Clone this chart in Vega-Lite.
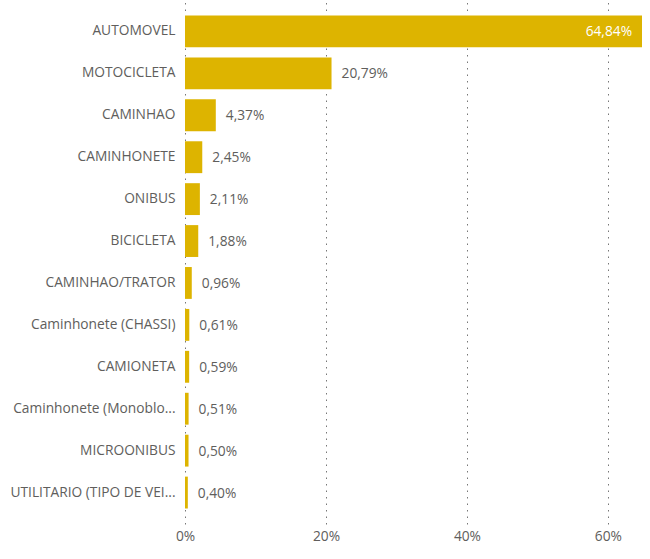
{
  "$schema": "https://vega.github.io/schema/vega-lite/v6.json",
  "autosize": {"type": "none"},
  "width": 457,
  "height": 524,
  "padding": {"left": 185, "top": 0, "right": 8, "bottom": 35},
  "config": {
    "locale": {"number": {"decimal": ",", "thousands": ".", "grouping": [3], "currency": ["R$", ""]}},
    "view": {"stroke": null},
    "font": "Open Sans"
  },
  "data": {
    "values": [
      {"tipo": "AUTOMOVEL", "pct": 0.6484},
      {"tipo": "MOTOCICLETA", "pct": 0.2079},
      {"tipo": "CAMINHAO", "pct": 0.0437},
      {"tipo": "CAMINHONETE", "pct": 0.0245},
      {"tipo": "ONIBUS", "pct": 0.0211},
      {"tipo": "BICICLETA", "pct": 0.0188},
      {"tipo": "CAMINHAO/TRATOR", "pct": 0.0096},
      {"tipo": "Caminhonete (CHASSI)", "pct": 0.0061},
      {"tipo": "CAMIONETA", "pct": 0.0059},
      {"tipo": "Caminhonete (Monoblo...", "pct": 0.0051},
      {"tipo": "MICROONIBUS", "pct": 0.0050},
      {"tipo": "UTILITARIO (TIPO DE VEI...", "pct": 0.0040}
    ]
  },
  "encoding": {
    "y": {
      "field": "tipo", "type": "nominal", "sort": null,
      "scale": {"paddingInner": 0.24, "paddingOuter": 0.37},
      "axis": {"title": null, "domain": false, "ticks": false, "labelPadding": 10, "labelFontSize": 13.75, "labelColor": "#605E5C", "labelFont": "Open Sans", "labelLimit": 200}
    },
    "x": {
      "field": "pct", "type": "quantitative",
      "scale": {"domain": [0, 0.6484], "nice": false, "zero": true},
      "axis": {"title": null, "format": ".0%", "values": [0, 0.2, 0.4, 0.6], "domain": false, "ticks": false, "labelFlush": false, "grid": true, "gridColor": "#777777", "gridDash": [1.5, 5], "gridWidth": 1, "labelFontSize": 13.75, "labelColor": "#605E5C", "labelPadding": 5, "labelFont": "Open Sans"}
    }
  },
  "layer": [
    {"mark": {"type": "bar", "color": "#DDB400"}},
    {
      "transform": [{"filter": "datum.pct < 0.5"}],
      "mark": {"type": "text", "align": "left", "dx": 10, "dy": 1, "fontSize": 13.75, "color": "#605E5C", "font": "Open Sans"},
      "encoding": {"text": {"field": "pct", "type": "quantitative", "format": ".2%"}}
    },
    {
      "transform": [{"filter": "datum.pct >= 0.5"}],
      "mark": {"type": "text", "align": "right", "dx": -10, "dy": 1, "fontSize": 13.75, "color": "#FFFFFF", "font": "Open Sans"},
      "encoding": {"text": {"field": "pct", "type": "quantitative", "format": ".2%"}}
    }
  ]
}
